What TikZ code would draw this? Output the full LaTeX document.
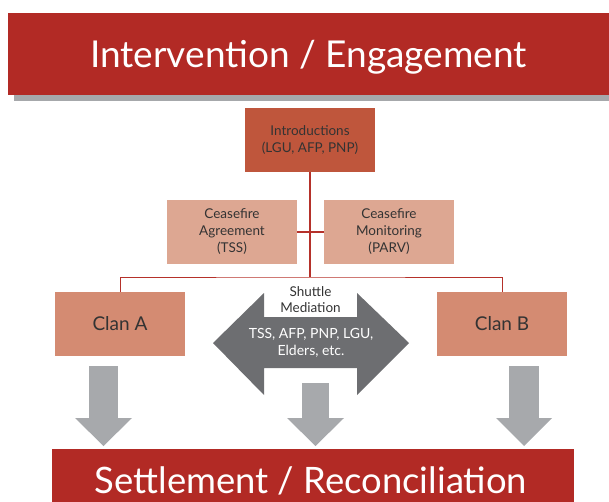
\documentclass[tikz,border=0pt]{standalone}
\usepackage{fontspec}
\setmainfont{Lato}
\definecolor{banner}{HTML}{B22A25}
\definecolor{introc}{HTML}{BF563C}
\definecolor{ceasec}{HTML}{DDA792}
\definecolor{clanc}{HTML}{D48B72}
\definecolor{darkarrow}{HTML}{6D6E71}
\definecolor{lightarrow}{HTML}{A7A9AC}
\definecolor{linec}{HTML}{B5312A}
\definecolor{shadowc}{HTML}{A6A8AB}
\definecolor{txt}{HTML}{333333}
\tikzset{
  box/.style={minimum width=130pt, minimum height=64pt, inner sep=0pt, align=center, text=txt, font=\fontsize{13.5}{17}\selectfont},
  clanbox/.style={box, fill=clanc, font=\fontsize{19}{22}\selectfont},
  redline/.style={draw=linec, line width=1.8pt},
  thinline/.style={draw=linec, line width=0.9pt},
  downarrow/.style={fill=lightarrow},
}
\begin{document}
\begin{tikzpicture}[x=1pt,y=-1pt]
\useasboundingbox (0,0) rectangle (609,502);
% top banner
\fill[shadowc] (14,19) rectangle (615,101);
\node[fill=banner, minimum width=601pt, minimum height=82pt, inner sep=0pt, anchor=north west] (top) at (8,13) {};
\node[text=white, font=\fontsize{37}{42}\selectfont, anchor=base, inner sep=0pt] (toptext) at (308.5,68) {Intervention / Engagement};
% boxes
\node[box, fill=introc] (intro) at (310,140) {Introductions\\(LGU, AFP, PNP)};
\node[box, fill=ceasec] (ca) at (232,232) {Ceasefire\\Agreement\\(TSS)};
\node[box, fill=ceasec] (cm) at (389,232) {Ceasefire\\Monitoring\\(PARV)};
\node[clanbox] (clanA) at (120,324) {Clan A};
\node[clanbox] (clanB) at (502,324) {Clan B};
% connectors
\coordinate (j) at (310,277);
\draw[redline] (intro.south) -- (j);
\draw[redline] (ca.east) -- (cm.west);
\draw[thinline] (clanA.north) |- (j) -| (clanB.north);
% double arrow
\fill[darkarrow] (213,343) -- (264,293) -- (264,317) -- (357,317) -- (357,293) -- (409,343) -- (357,395) -- (357,368) -- (264,368) -- (264,395) -- cycle;
\node[align=center, text=txt, inner sep=0pt, font=\fontsize{13.5}{15.5}\selectfont] (shuttle) at (310.5,299.5) {Shuttle\\Mediation};
\node[align=center, text=white, inner sep=0pt, font=\fontsize{14}{16.5}\selectfont] (med) at (311,343) {TSS, AFP, PNP, LGU,\\Elders, etc.};
% down arrows
\fill[downarrow] (89,366) rectangle (118,418);
\fill[downarrow] (75,418) -- (132,418) -- (103.5,446) -- cycle;
\fill[downarrow] (302,383) rectangle (329,418);
\fill[downarrow] (287,418) -- (344,418) -- (315.5,446) -- cycle;
\fill[downarrow] (509,366) rectangle (539,418);
\fill[downarrow] (496,418) -- (552,418) -- (524,446) -- cycle;
% bottom banner
\node[fill=banner, minimum width=522pt, minimum height=62pt, inner sep=0pt, anchor=north west] (bottom) at (52,449) {};
\node[text=white, font=\fontsize{36.4}{42}\selectfont, anchor=base, inner sep=0pt] (bottomtext) at (311,493) {Settlement / Reconciliation};
\end{tikzpicture}
\end{document}
